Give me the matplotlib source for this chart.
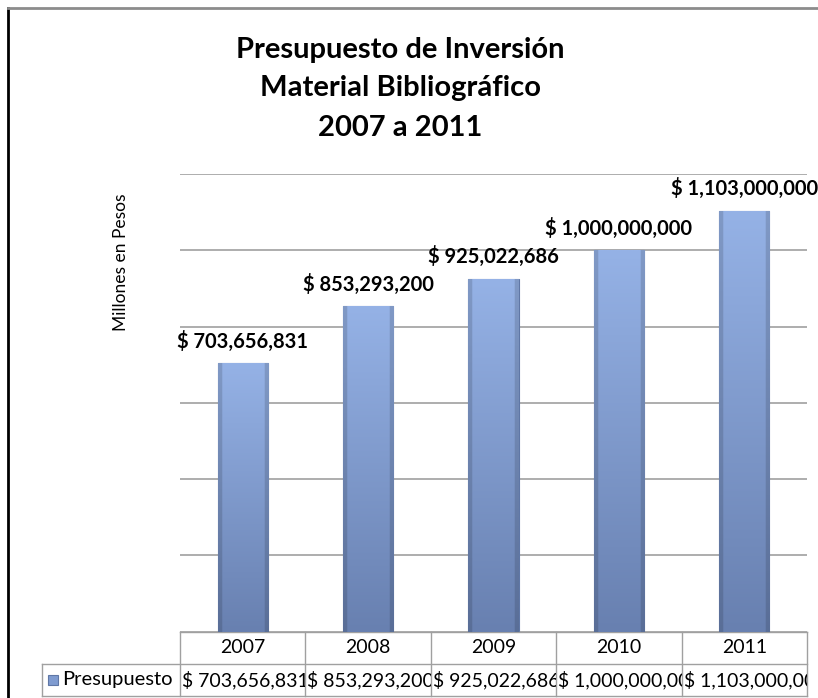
import numpy as np
import matplotlib.pyplot as plt
from matplotlib.patches import Rectangle
from matplotlib.lines import Line2D
from matplotlib.colors import to_rgb

years = ['2007', '2008', '2009', '2010', '2011']
presupuesto = [703656831, 853293200, 925022686, 1000000000, 1103000000]
serie = 'Presupuesto'
titulo = ['Presupuesto de Inversión', 'Material Bibliográfico', '2007 a 2011']
eje_y = 'Millones en Pesos'

plt.rcParams['font.family'] = ['Lato', 'DejaVu Sans']

W, H = 818, 698
fig = plt.figure(figsize=(W / 100, H / 100), dpi=100)
ax = fig.add_axes([180 / W, 1 - 631.7 / H, 627 / W, 457.7 / H])

# bevelled blue fill: lighter at the top, darker along the sides
top, bottom = np.array(to_rgb('#95b2e6')), np.array(to_rgb('#6880b0'))
t = np.linspace(0, 1, 200)[:, None, None]
u = np.linspace(0, 1, 60)[None, :, None]
fill = bottom + (top - bottom) * t
side = np.where((u < 0.07) | (u > 0.93), 0.86, 1.0)
fill = np.clip(fill * side, 0, 1)

x = np.arange(len(years))
bars = ax.bar(x, presupuesto, width=0.40, color='#7f9bd0', edgecolor='#5f77a6',
              linewidth=0.8, zorder=2)
for b in bars:
    im = ax.imshow(fill, extent=[b.get_x(), b.get_x() + b.get_width(), 0, b.get_height()],
                   origin='lower', aspect='auto', zorder=2.5, interpolation='bilinear')
    im.set_clip_path(b)

for xi, v in zip(x, presupuesto):
    ax.annotate(f'$ {v:,}', (xi, v), xytext=(0, 16), textcoords='offset points',
                ha='center', va='center', fontsize=14.5, fontweight='bold',
                annotation_clip=False)

ax.set_xlim(-0.5, len(years) - 0.5)
ax.set_ylim(0, 1.2e9)
ax.set_yticks(np.arange(0, 1.2e9 + 1, 2e8))
ax.yaxis.grid(True, color='#a0a0a0', linewidth=1.2, zorder=0)
ax.set_axisbelow(True)
ax.tick_params(left=False, bottom=False, labelleft=False, labelbottom=False)
for s in ax.spines.values():
    s.set_visible(False)

# data table below the chart
h = 32 / 457.7
line_kw = dict(color='#a0a0a0', linewidth=1.0, transform=ax.transAxes, clip_on=False)
n = len(years)
lab_left = -138 / 627
ax.add_line(Line2D([0, 1], [0, 0], **line_kw))
ax.add_line(Line2D([lab_left, 1], [-h, -h], **line_kw))
ax.add_line(Line2D([lab_left, 1], [-2 * h, -2 * h], **line_kw))
ax.add_line(Line2D([lab_left, lab_left], [-h, -2 * h], **line_kw))
for i in range(n + 1):
    ax.add_line(Line2D([i / n, i / n], [0, -2 * h], **line_kw))

for i, (yr, v) in enumerate(zip(years, presupuesto)):
    ax.text((i + 0.5) / n, -0.5 * h, yr, transform=ax.transAxes, ha='center',
            va='center', fontsize=14)
    txt = ax.text(i / n + 2 / 627, -1.5 * h, f'$ {v:,}', transform=ax.transAxes,
                  ha='left', va='center', fontsize=14, clip_on=True)
    txt.set_clip_path(Rectangle((i / n, -2 * h), 1 / n, h, transform=ax.transAxes))

# legend key in the table
key = Rectangle((-132 / 627, -1.5 * h - 5 / 457.7), 10 / 627, 10 / 457.7,
                transform=ax.transAxes, facecolor='#7f9bd0', edgecolor='#5f77a6',
                linewidth=0.8, clip_on=False)
ax.add_patch(key)
ax.text(-118 / 627, -1.5 * h, serie, transform=ax.transAxes, ha='left', va='center',
        fontsize=14.5)

# title and axis label
for txt, yp in zip(titulo, [50, 88, 128]):
    fig.text(400 / W, 1 - yp / H, txt, ha='center', va='center', fontsize=21,
             fontweight='bold')
fig.text(121 / W, 1 - 262 / H, eje_y, rotation=90, ha='center', va='center',
         fontsize=12.5)

# chart frame
fig.add_artist(Line2D([8 / W, 8 / W], [0, 1 - 8 / H], color='black', linewidth=2,
                      transform=fig.transFigure))
fig.add_artist(Line2D([8 / W, 1], [1 - 8 / H, 1 - 8 / H], color='#8c8c8c', linewidth=2,
                      transform=fig.transFigure))

fig.savefig('out.png', dpi=100, facecolor='white')
